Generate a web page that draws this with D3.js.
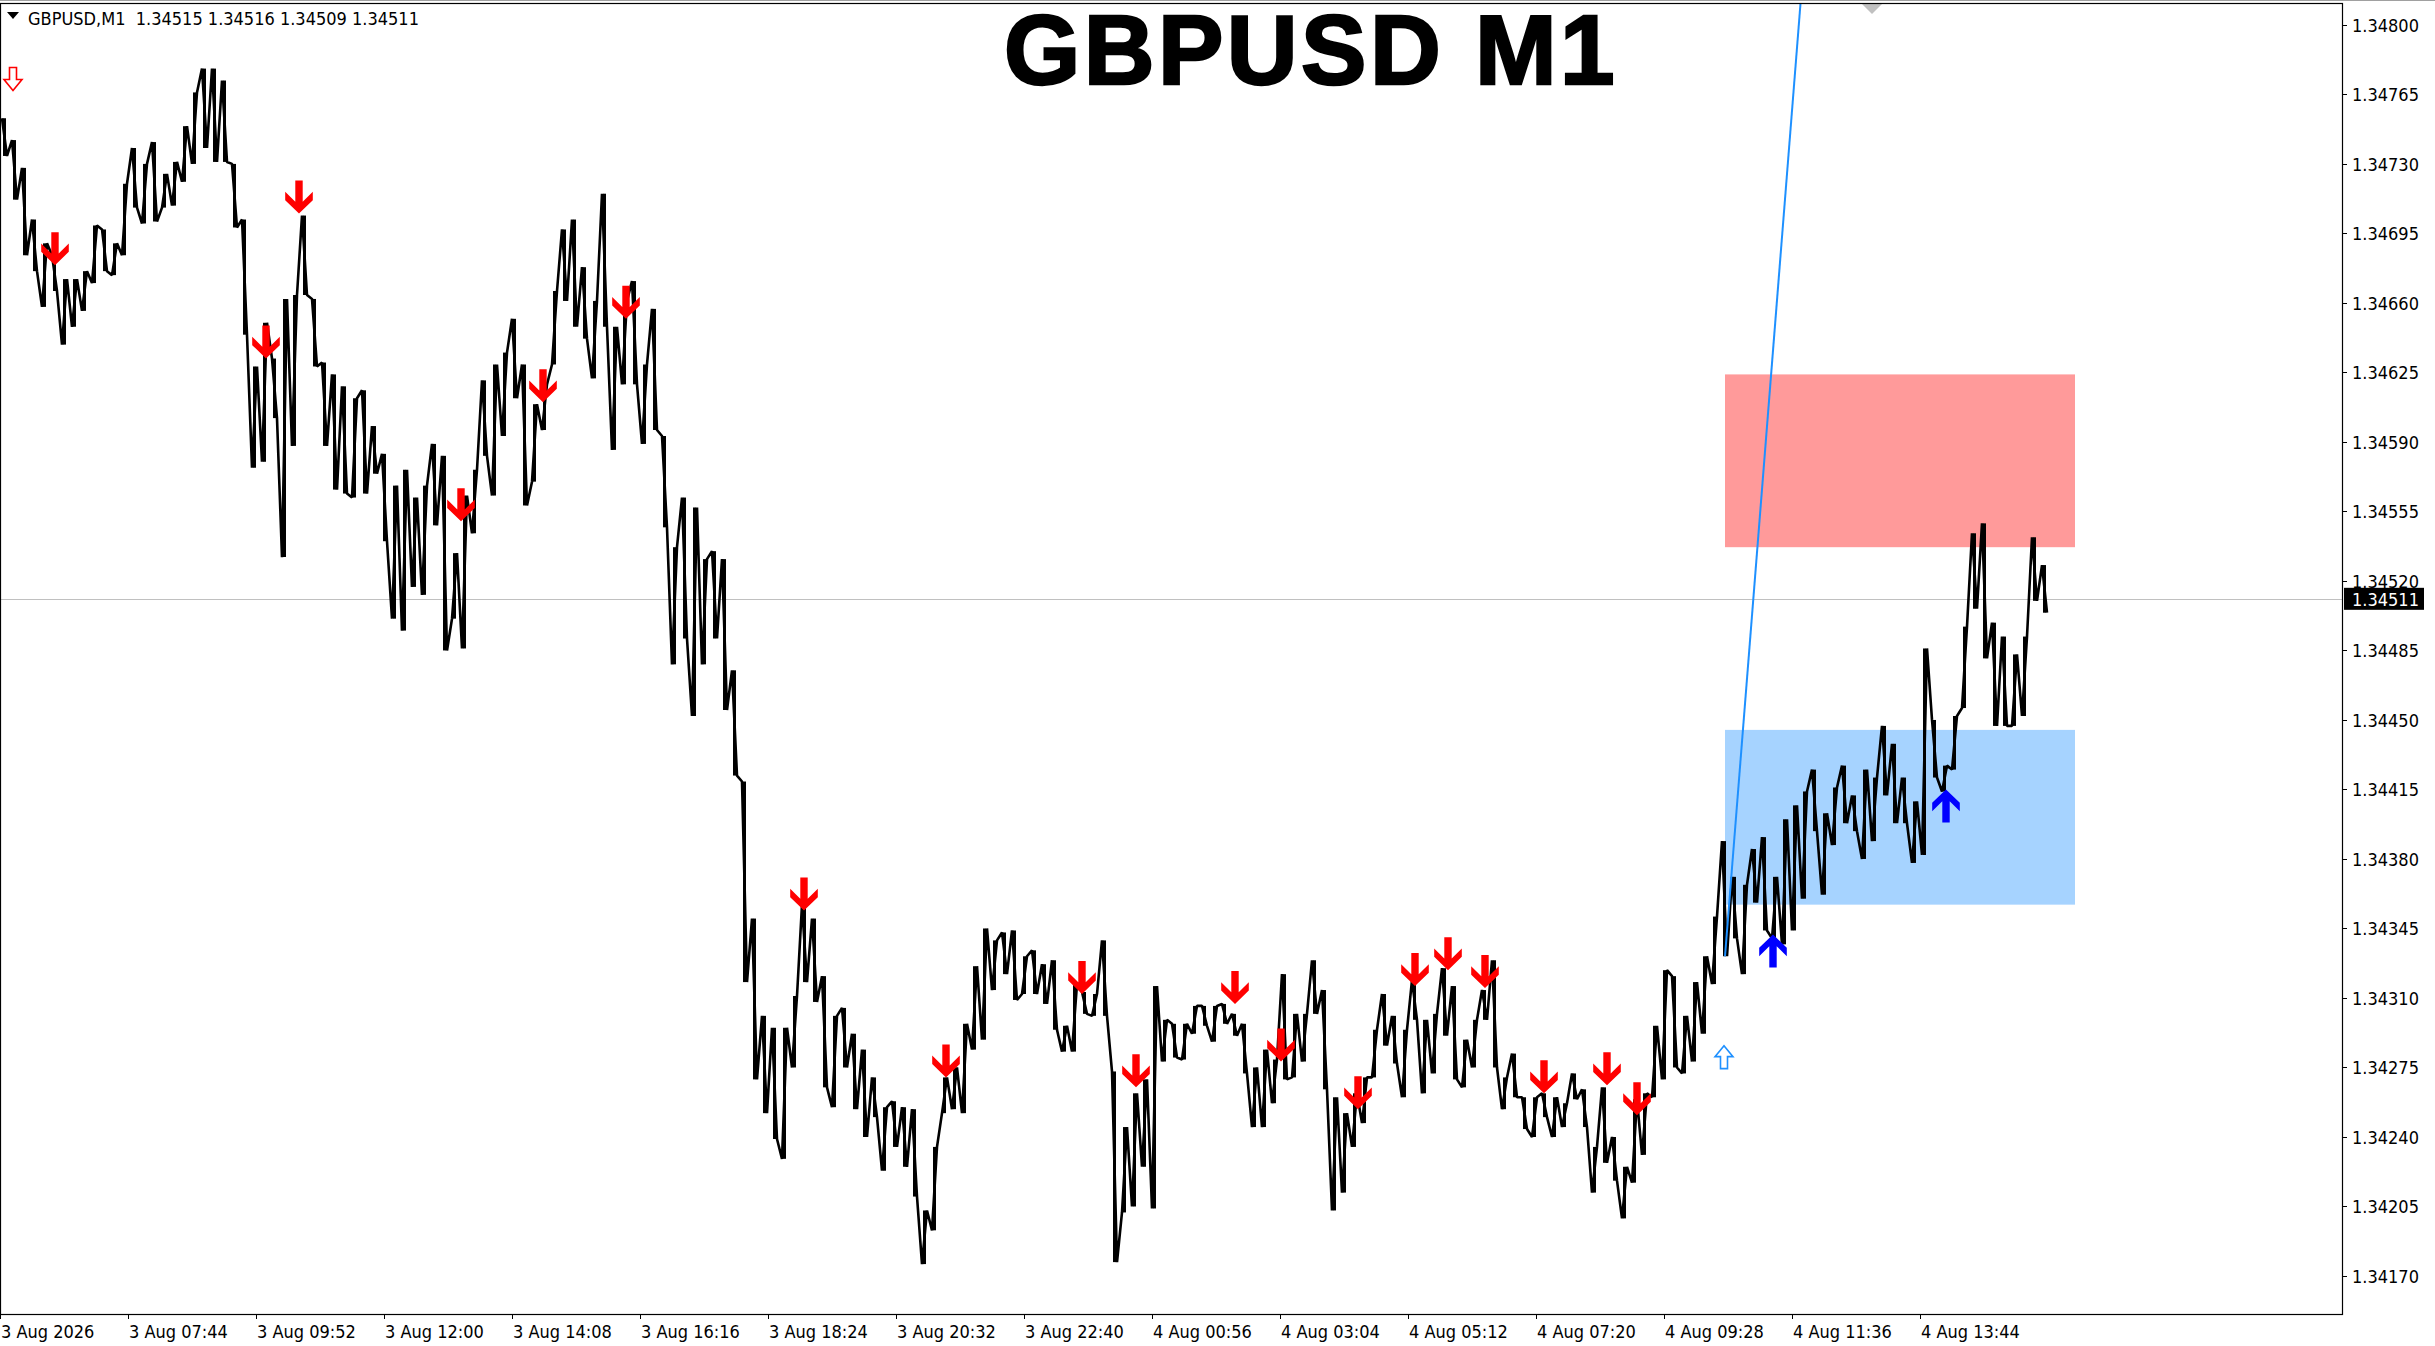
<!DOCTYPE html>
<html lang="en">
<head>
<meta charset="UTF-8">
<title>GBPUSD M1</title>
<script src="https://d3js.org/d3.v7.min.js"></script>
<style>
  body { margin: 0; background: #fff; overflow: hidden; }
  svg { display: block; background: #fff; }
  text { font-family: "DejaVu Sans Condensed", "DejaVu Sans", sans-serif; fill: #000; }
  .title { font-family: "Liberation Sans", Arial, sans-serif; font-weight: bold; }
</style>
</head>
<body>
<svg id="chart"></svg>
<script>
// prices are kept in points (0.00001) above 1.34000
const priceBase = 1.34;
const point = 0.00001;
const toPrice = p => priceBase + p * point;

const symbol = "GBPUSD,M1";
const lastOHLC = ["1.34515", "1.34516", "1.34509", "1.34511"];
const currentPrice = 1.34511;

// one slot = 10 one-minute bars, high / low of each slot
const barsPerSlot = 10;
const slotHigh = [
  753,742,728,702,690,684,672,672,676,699,
  697,690,720,738,730,741,725,731,749,766,
  778,778,772,730,702,628,650,632,662,664,
  704,662,630,624,618,612,616,598,584,568,
  576,562,568,589,583,534,563,576,621,629,
  635,652,629,609,619,666,697,702,678,661,
  715,648,661,671,629,657,593,537,562,557,
  531,535,531,475,419,350,301,295,295,311,
  357,350,321,301,305,292,284,270,255,258,
  255,254,203,235,270,275,297,326,345,339,
  343,344,331,334,327,329,296,317,313,312,
  339,273,245,262,269,316,299,297,297,306,
  306,306,307,302,297,275,284,279,322,302,
  302,329,314,260,252,262,270,294,312,301,
  294,319,299,302,325,316,289,299,314,329,
  270,282,260,260,262,260,257,272,264,235,
  265,240,225,259,262,296,324,321,301,318,
  331,351,389,371,367,385,391,371,400,407,
  414,425,403,416,427,412,425,421,447,438,
  421,409,486,450,427,452,497,544,549,499,
  492,483,492,542,528
];
const slotLow = [
  734,712,684,676,658,666,639,648,656,670,
  676,674,684,708,700,701,708,709,721,730,
  738,731,731,698,644,577,580,602,532,588,
  664,628,588,566,564,562,564,574,540,501,
  495,517,513,548,485,501,486,544,583,563,
  593,612,558,570,596,629,661,648,642,622,
  648,586,619,619,589,596,547,478,491,452,
  478,491,455,422,318,269,252,239,229,275,
  318,308,265,255,275,254,240,250,223,235,
  225,210,176,193,252,254,252,284,289,314,
  322,309,312,312,307,294,283,283,302,301,
  301,177,202,205,225,204,278,280,279,292,
  296,288,297,291,272,245,245,257,269,270,
  278,302,264,203,212,235,247,270,286,277,
  260,299,262,272,291,269,265,275,299,275,
  254,260,244,240,250,240,245,259,245,212,
  227,218,199,217,231,260,269,275,272,278,
  292,317,331,340,322,358,344,340,337,344,
  360,394,362,387,398,394,380,389,412,398,
  398,378,382,421,414,425,456,506,481,447,
  447,447,452,510,504
];

// signal arrows: bar index and price of the arrow tip (points)
const sellBars   = [55,266,299,461,543,626,804,946,1082,1136,1235,1281,1358,1415,1448,1485,1544,1607,1637];
const sellPoints = [679,632,705,550,610,652,354,270,312,265,307,278,254,316,324,315,262,266,251];
const buyBars    = [1773,1946];
const buyPoints  = [342,415];
const hollowSell = {bar: 13, p: 767};
const hollowBuy  = {bar: 1724, p: 286};

// zones and trend line
const zones = [
  {from: 1725, to: 2075, top: 624, bottom: 537, color: "#ff9a9a"},
  {from: 1725, to: 2075, top: 445, bottom: 357, color: "#a6d3ff"}
];
const trendBars = [1725, 1773];
const trendPoints = [331, 636];
const shiftMarkerBar = 1872;

const yTicks = [1.34170,1.34205,1.34240,1.34275,1.34310,1.34345,1.34380,1.34415,1.34450,
                1.34485,1.34520,1.34555,1.34590,1.34625,1.34660,1.34695,1.34730,1.34765,1.34800];
const xLabels = ["3 Aug 2026","3 Aug 07:44","3 Aug 09:52","3 Aug 12:00","3 Aug 14:08","3 Aug 16:16",
                 "3 Aug 18:24","3 Aug 20:32","3 Aug 22:40","4 Aug 00:56","4 Aug 03:04","4 Aug 05:12",
                 "4 Aug 07:20","4 Aug 09:28","4 Aug 11:36","4 Aug 13:44"];
const xLabelBars = [0,128,256,384,512,640,768,896,1024,1152,1280,1408,1536,1664,1792,1920];

const W = 2435, H = 1346;
const plot = {left: 0, top: 3, right: 2342, bottom: 1314};

const svg = d3.select("#chart").attr("width", W).attr("height", H);

const x = d3.scaleLinear().domain([0, 2342]).range([plot.left, plot.right]);
const y = d3.scaleLinear().domain([1.3417, 1.348]).range([1276, 24.9]);

svg.append("defs").append("clipPath").attr("id", "plotclip")
  .append("rect")
  .attr("x", plot.left).attr("y", plot.top)
  .attr("width", plot.right - plot.left).attr("height", plot.bottom - plot.top);

const g = svg.append("g").attr("clip-path", "url(#plotclip)");

// zones behind everything
g.selectAll("rect.zone")
  .data(zones)
  .join("rect")
  .attr("class", "zone")
  .attr("x", d => x(d.from))
  .attr("width", d => x(d.to) - x(d.from))
  .attr("y", d => y(toPrice(d.top)))
  .attr("height", d => y(toPrice(d.bottom)) - y(toPrice(d.top)))
  .attr("fill", d => d.color);

// current price line
g.append("line")
  .attr("x1", plot.left).attr("x2", plot.right)
  .attr("y1", Math.round(y(currentPrice)) + 0.5).attr("y2", Math.round(y(currentPrice)) + 0.5)
  .attr("stroke", "#c0c0c0").attr("stroke-width", 1);

// price: a high-low stroke per slot plus a zigzag through the extremes
const n = slotHigh.length;
const mid = k => (slotHigh[k] + slotLow[k]) / 2;
const pts = [];
for (let k = 0; k < n; k++) {
  const next = k + 1 < n ? mid(k + 1) : (currentPrice - priceBase) / point;
  const up = next >= mid(k);
  const a = up ? slotLow[k] : slotHigh[k];
  const b = up ? slotHigh[k] : slotLow[k];
  pts.push([k * barsPerSlot + 2, a], [k * barsPerSlot + 7, b]);
}

g.selectAll("line.hl")
  .data(d3.range(n))
  .join("line")
  .attr("class", "hl")
  .attr("x1", k => x(k * barsPerSlot + 4.5)).attr("x2", k => x(k * barsPerSlot + 4.5))
  .attr("y1", k => y(toPrice(slotHigh[k]))).attr("y2", k => y(toPrice(slotLow[k])))
  .attr("stroke", "#000").attr("stroke-width", 3);

const line = d3.line().x(d => x(d[0])).y(d => y(toPrice(d[1])));
g.append("path")
  .attr("d", line(pts))
  .attr("fill", "none")
  .attr("stroke", "#000")
  .attr("stroke-width", 2.6)
  .attr("stroke-linejoin", "bevel");

// trend line, extended as a ray upward
const t0 = [x(trendBars[0]), y(toPrice(trendPoints[0]))];
const t1 = [x(trendBars[1]), y(toPrice(trendPoints[1]))];
const k = (plot.top - t0[1]) / (t1[1] - t0[1]);
g.append("line")
  .attr("x1", t0[0]).attr("y1", t0[1])
  .attr("x2", t0[0] + (t1[0] - t0[0]) * k).attr("y2", plot.top)
  .attr("stroke", "#1e90ff").attr("stroke-width", 2);

// arrows
const thick = "M0,0 L13.8,-13.4 L13.8,-21.8 L3.7,-11.8 L3.7,-33 L-3.7,-33 L-3.7,-11.8 L-13.8,-21.8 L-13.8,-13.4 Z";
const hollow = "M0,0 L9,-11 L3.5,-11 L3.5,-23 L-3.5,-23 L-3.5,-11 L-9,-11 Z";

g.selectAll("path.sell")
  .data(sellBars.map((b, i) => ({b, p: sellPoints[i]})))
  .join("path")
  .attr("class", "sell")
  .attr("d", thick)
  .attr("transform", d => `translate(${x(d.b)},${y(toPrice(d.p))})`)
  .attr("fill", "#ff0000");

g.selectAll("path.buy")
  .data(buyBars.map((b, i) => ({b, p: buyPoints[i]})))
  .join("path")
  .attr("class", "buy")
  .attr("d", thick)
  .attr("transform", d => `translate(${x(d.b)},${y(toPrice(d.p))}) scale(1,-1)`)
  .attr("fill", "#0000ff");

g.append("path")
  .attr("d", hollow)
  .attr("transform", `translate(${x(hollowSell.bar)},${y(toPrice(hollowSell.p))})`)
  .attr("fill", "#fff").attr("stroke", "#ff0000").attr("stroke-width", 1.6);

g.append("path")
  .attr("d", hollow)
  .attr("transform", `translate(${x(hollowBuy.bar)},${y(toPrice(hollowBuy.p))}) scale(1,-1)`)
  .attr("fill", "#fff").attr("stroke", "#1e90ff").attr("stroke-width", 1.6);

// chart shift marker
const sx = x(shiftMarkerBar);
svg.append("path")
  .attr("d", `M${sx - 10},4 L${sx + 10},4 L${sx},14 Z`)
  .attr("fill", "#c0c0c0");

// frame
svg.append("line").attr("x1", 0).attr("x2", W).attr("y1", 0.5).attr("y2", 0.5)
  .attr("stroke", "#a0a0a0");
svg.append("rect")
  .attr("x", plot.left + 0.5).attr("y", plot.top + 0.5)
  .attr("width", plot.right - plot.left).attr("height", plot.bottom - plot.top)
  .attr("fill", "none").attr("stroke", "#000").attr("stroke-width", 1.2);

// y axis on the right
const yAxis = svg.append("g");
yAxis.selectAll("line")
  .data(yTicks)
  .join("line")
  .attr("x1", plot.right).attr("x2", plot.right + 5)
  .attr("y1", d => Math.round(y(d)) + 0.5).attr("y2", d => Math.round(y(d)) + 0.5)
  .attr("stroke", "#000");
yAxis.selectAll("text")
  .data(yTicks)
  .join("text")
  .attr("x", plot.right + 10)
  .attr("y", d => y(d) + 7)
  .attr("font-size", 18)
  .text(d => d.toFixed(5));

// current price label
const cy = y(currentPrice);
svg.append("rect")
  .attr("x", plot.right + 2).attr("y", cy - 11)
  .attr("width", 80).attr("height", 22)
  .attr("fill", "#000");
svg.append("text")
  .attr("x", plot.right + 10).attr("y", cy + 7)
  .attr("font-size", 18)
  .style("fill", "#fff")
  .text(currentPrice.toFixed(5));

// x axis at the bottom
const xAxis = svg.append("g");
xAxis.selectAll("line")
  .data(xLabelBars)
  .join("line")
  .attr("x1", d => Math.round(x(d)) + 0.5).attr("x2", d => Math.round(x(d)) + 0.5)
  .attr("y1", plot.bottom).attr("y2", plot.bottom + 5)
  .attr("stroke", "#000");
xAxis.selectAll("text")
  .data(xLabels)
  .join("text")
  .attr("x", (d, i) => x(xLabelBars[i]) + 1)
  .attr("y", 1338)
  .attr("font-size", 18)
  .text(d => d);

// header
svg.append("path").attr("d", "M7,12 L19,12 L13,19 Z").attr("fill", "#000");
svg.append("text")
  .attr("x", 28).attr("y", 25)
  .attr("font-size", 18)
  .attr("xml:space", "preserve")
  .text(`${symbol}  ${lastOHLC.join(" ")}`);

// big title
svg.append("text")
  .attr("class", "title")
  .attr("x", 1311).attr("y", 84)
  .attr("text-anchor", "middle")
  .attr("font-size", 98)
  .attr("letter-spacing", 3.5)
  .attr("stroke", "#000").attr("stroke-width", 2.5)
  .text("GBPUSD M1");
</script>
</body>
</html>
